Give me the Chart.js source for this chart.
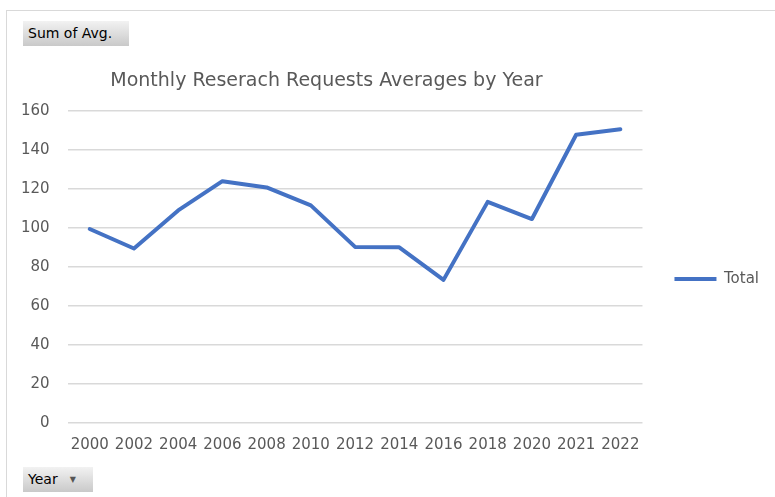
<!DOCTYPE html>
<html>
<head>
<meta charset="utf-8">
<script src="https://cdn.jsdelivr.net/npm/chart.js@4.4.1/dist/chart.umd.min.js"></script>
<style>
  body { margin: 0; background: #fff; font-family: "DejaVu Sans", sans-serif; }
  #wrap { position: relative; width: 775px; height: 497px; overflow: hidden; }
  #frame { position: absolute; left: 6px; top: 10px; width: 800px; height: 520px; border: 1px solid #d9d9d9; }
  #chart { position: absolute; left: 0; top: 0; }
  .btn {
    position: absolute; height: 25px; line-height: 25px; padding-left: 5px;
    font-size: 14px; color: #000; box-sizing: border-box;
    background: linear-gradient(#f2f2f2, #c9c9c9);
  }
  #sum { left: 23px; top: 21px; width: 106px; }
  #year { left: 23px; top: 467px; width: 70px; }
  #year span { font-size: 8px; color: #555; margin-left: 12px; position: relative; top: -2px; }
  #title {
    position: absolute; left: 0; top: 68px; width: 653px; text-align: center;
    font-size: 19px; color: #595959;
  }
</style>
</head>
<body>
<div id="wrap">
  <div id="frame"></div>
  <canvas id="chart" width="775" height="497"></canvas>
  <div class="btn" id="sum">Sum of Avg.</div>
  <div class="btn" id="year">Year<span>&#9660;</span></div>
  <div id="title">Monthly Reserach Requests Averages by Year</div>
</div>
<script>
const years = ['2000', '2002', '2004', '2006', '2008', '2010', '2012', '2014', '2016', '2018', '2020', '2021', '2022'];
const totals = [99.5, 89.5, 109, 124, 120.8, 111.6, 90.3, 90.1, 73.4, 113.4, 104.6, 147.8, 150.6];
const yTicks = [0, 20, 40, 60, 80, 100, 120, 140, 160];

const grey = '#595959';
const ctx = document.querySelector('#chart').getContext('2d');

new Chart(ctx, {
    type: 'line',
    data: {
        labels: years,
        datasets: [
            {
                label: 'Total',
                data: totals,
                borderColor: '#4472C4',
                backgroundColor: '#4472C4',
                borderWidth: 4,
                borderCapStyle: 'round',
                borderJoinStyle: 'round',
                pointRadius: 0,
                tension: 0
            }
        ]
    },
    options: {
        responsive: false,
        animation: false,
        layout: {
            padding: { left: 3, right: 6, top: 111, bottom: 30 }
        },
        plugins: {
            title: { display: false },
            tooltip: { enabled: false },
            legend: {
                position: 'right',
                fullSize: false,
                // empty title only pushes the single entry down a little
                title: { display: true, text: '', padding: 0, font: { size: 20 } },
                labels: {
                    usePointStyle: true,
                    pointStyle: 'line',
                    pointStyleWidth: 42,
                    padding: 32,
                    color: grey,
                    font: { family: 'DejaVu Sans', size: 15 }
                }
            }
        },
        scales: {
            x: {
                offset: true,
                grid: { display: false, drawTicks: false },
                border: { display: false },
                ticks: {
                    color: grey,
                    padding: 13,
                    maxRotation: 0,
                    autoSkip: false,
                    font: { family: 'DejaVu Sans', size: 15 }
                }
            },
            y: {
                min: yTicks[0],
                max: yTicks[yTicks.length - 1],
                afterBuildTicks: (scale) => { scale.ticks = yTicks.map(v => ({ value: v })); },
                grid: { color: '#d9d9d9', lineWidth: 1.5, drawTicks: false },
                border: { display: false },
                ticks: {
                    color: grey,
                    padding: 18,
                    font: { family: 'DejaVu Sans', size: 15 }
                }
            }
        }
    }
});
</script>
</body>
</html>
